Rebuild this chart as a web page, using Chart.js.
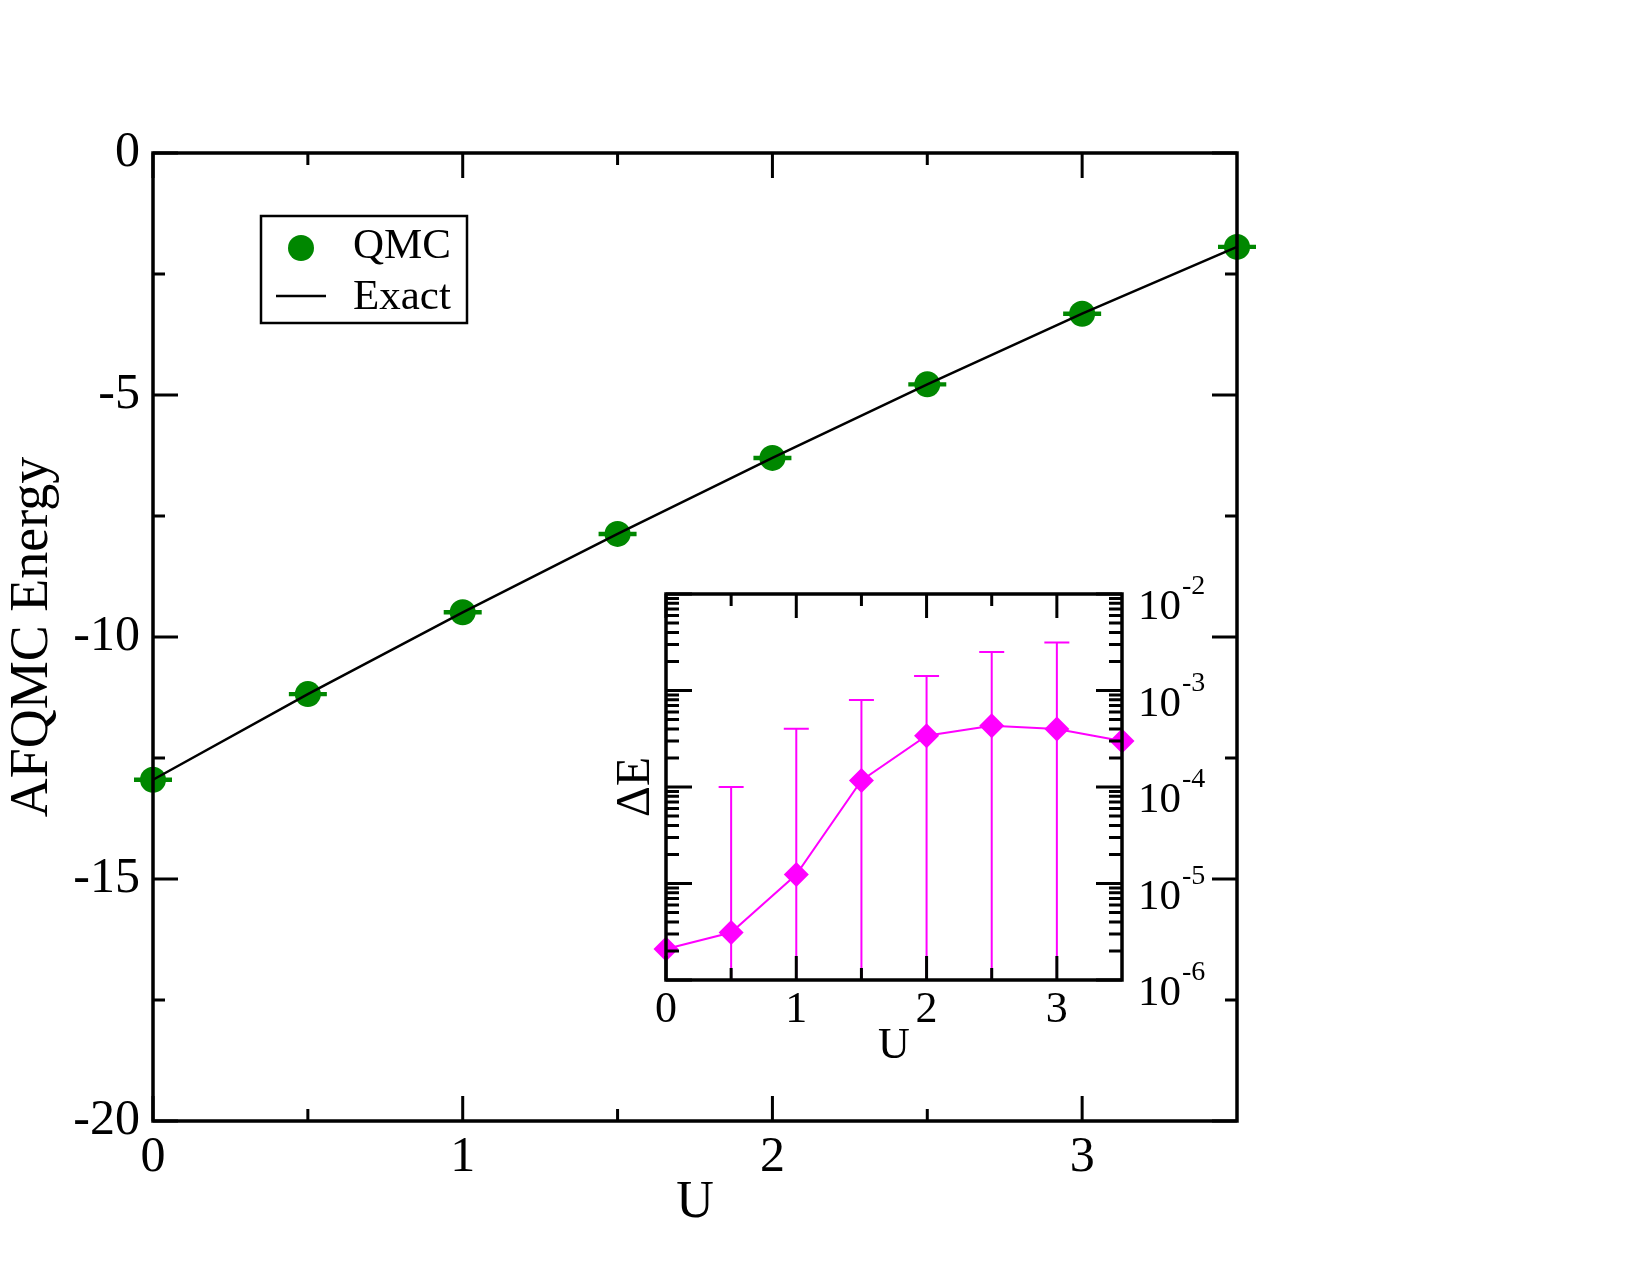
<!DOCTYPE html>
<html><head><meta charset="utf-8">
<script src="https://cdn.jsdelivr.net/npm/chart.js@4.4.1/dist/chart.umd.min.js"></script>
<style>
html,body{margin:0;padding:0;background:#fff;}
#wrap{position:relative;width:1650px;height:1275px;background:#fff;}
#main{position:absolute;left:0;top:0;}
#inset{position:absolute;left:560px;top:540px;}
</style></head><body>
<div id="wrap"><canvas id="main" width="1650" height="1275"></canvas><canvas id="inset" width="700" height="540"></canvas></div>
<script>
// ---- data ----
const U = [0, 0.5, 1, 1.5, 2, 2.5, 3, 3.5];
const qmcEnergy = [-12.95, -11.18, -9.49, -7.87, -6.30, -4.78, -3.32, -1.94];
const qmcError = [0.02, 0.02, 0.02, 0.02, 0.02, 0.02, 0.02, 0.02];
const exactEnergy = [-12.95, -11.18, -9.49, -7.87, -6.30, -4.78, -3.32, -1.94];
const deltaE = [2.1e-6, 3.1e-6, 1.24e-5, 1.17e-4, 3.4e-4, 4.3e-4, 4.0e-4, 3.0e-4];
const deltaEErr = [null, 9.7e-5, 3.9e-4, 6.8e-4, 1.07e-3, 2.07e-3, 2.75e-3, null];
const mainXTicks = [0, 1, 2, 3];
const mainXMinor = [0.5, 1.5, 2.5];
const mainYTicks = [-20, -15, -10, -5, 0];
const mainYMinor = [-17.5, -12.5, -7.5, -2.5];
const insetXTicks = [0, 1, 2, 3];
const insetXMinor = [0.5, 1.5, 2.5];
const insetYTicks = [1e-6, 1e-5, 1e-4, 1e-3, 1e-2];
const insetYExp = ['-6', '-5', '-4', '-3', '-2'];

const FONT = "'Liberation Serif', 'Times New Roman', serif";
Chart.defaults.font.family = FONT;
Chart.defaults.color = '#000';
const GREEN = 'rgb(0,135,0)';
const MAG = '#ff00ff';

const insetYMinor = [];
for (let d = -6; d < -2; d++) for (let m = 2; m <= 9; m++) insetYMinor.push(m * Math.pow(10, d));

const framePlugin = {
  id: 'frame',
  afterDraw(chart, args, o) {
    const {ctx, chartArea: a, scales} = chart;
    const xs = scales.x, ys = scales.y;
    ctx.save();
    ctx.strokeStyle = '#000'; ctx.lineWidth = o.lw; ctx.lineCap = 'butt';
    ctx.beginPath();
    const xt = o.xMajor.map(v => [v, o.xMajLen]).concat(o.xMinor.map(v => [v, o.xMinLen]));
    const yt = o.yMajor.map(v => [v, o.yMajLen]).concat(o.yMinor.map(v => [v, o.yMinLen]));
    xt.forEach(([v, len]) => { const p = xs.getPixelForValue(v);
      ctx.moveTo(p, a.bottom); ctx.lineTo(p, a.bottom - len);
      ctx.moveTo(p, a.top); ctx.lineTo(p, a.top + len); });
    yt.forEach(([v, len]) => { const p = ys.getPixelForValue(v);
      ctx.moveTo(a.left, p); ctx.lineTo(a.left + len, p);
      ctx.moveTo(a.right, p); ctx.lineTo(a.right - len, p); });
    ctx.stroke();
    ctx.lineJoin = 'miter';
    ctx.lineWidth = o.frameLw;
    ctx.strokeRect(a.left, a.top, a.right - a.left, a.bottom - a.top);
    ctx.restore();
  }
};

const mainErrPlugin = {
  id: 'mainErr',
  beforeDatasetsDraw(chart) {
    const {ctx, scales: {x, y}} = chart;
    ctx.save(); ctx.strokeStyle = GREEN; ctx.lineWidth = 2.5;
    ctx.beginPath();
    U.forEach((u, i) => {
      const px = x.getPixelForValue(u);
      const t = y.getPixelForValue(qmcEnergy[i] + qmcError[i]);
      const b = y.getPixelForValue(qmcEnergy[i] - qmcError[i]);
      ctx.moveTo(px, t); ctx.lineTo(px, b);
      ctx.moveTo(px - 19, t); ctx.lineTo(px + 19, t);
      ctx.moveTo(px - 19, b); ctx.lineTo(px + 19, b);
    });
    ctx.stroke(); ctx.restore();
  }
};

const legendPlugin = {
  id: 'boxLegend',
  afterDraw(chart) {
    const ctx = chart.ctx;
    const ds = chart.data.datasets;
    const qmc = ds.find(d => d.label === 'QMC'), ex = ds.find(d => d.label === 'Exact');
    ctx.save();
    ctx.strokeStyle = '#000'; ctx.lineWidth = 2.5;
    ctx.strokeRect(261, 216, 206, 107);
    ctx.fillStyle = GREEN;
    ctx.beginPath(); ctx.arc(301, 248, 13, 0, Math.PI * 2); ctx.fill();
    ctx.lineWidth = 2.5; ctx.beginPath(); ctx.moveTo(276, 296); ctx.lineTo(326, 296); ctx.stroke();
    ctx.fillStyle = '#000'; ctx.font = '43px ' + FONT; ctx.textBaseline = 'alphabetic'; ctx.textAlign = 'left';
    ctx.fillText(qmc.label, 353, 258);
    ctx.fillText(ex.label, 353, 309);
    ctx.restore();
  }
};

new Chart(document.getElementById('main'), {
  type: 'scatter',
  data: {
    datasets: [
      { label: 'Exact', type: 'line', data: U.map((u, i) => ({x: u, y: exactEnergy[i]})),
        borderColor: '#000', borderWidth: 2.5, pointRadius: 0, tension: 0, order: 0, clip: false },
      { label: 'QMC', data: U.map((u, i) => ({x: u, y: qmcEnergy[i]})),
        backgroundColor: GREEN, borderColor: GREEN, borderWidth: 0, pointRadius: 13, pointHoverRadius: 13, order: 1, clip: false }
    ]
  },
  options: {
    responsive: false, animation: false, devicePixelRatio: 1,
    layout: { padding: { left: 0, top: 153, right: 413, bottom: 0 } },
    plugins: { legend: { display: false }, tooltip: { enabled: false },
      frame: { lw: 3, frameLw: 3.5, xMajor: mainXTicks, xMinor: mainXMinor, yMajor: mainYTicks, yMinor: mainYMinor,
               xMajLen: 25, xMinLen: 12, yMajLen: 25, yMinLen: 12 } },
    scales: {
      x: { type: 'linear', min: 0, max: 3.5,
        afterBuildTicks: s => { s.ticks = mainXTicks.map(v => ({value: v})); },
        afterFit: s => { s.height = 154; },
        grid: { display: false, drawTicks: false }, border: { display: false },
        ticks: { font: { size: 50 }, padding: 7, color: '#000', maxRotation: 0, autoSkip: false },
        title: { display: true, text: 'U', font: { size: 52 }, color: '#000', padding: { top: 0, bottom: 40 } } },
      y: { type: 'linear', min: -20, max: 0,
        afterBuildTicks: s => { s.ticks = mainYTicks.map(v => ({value: v})); },
        afterFit: s => { s.width = 153; },
        grid: { display: false, drawTicks: false }, border: { display: false },
        ticks: { font: { size: 50 }, padding: 13, color: '#000', autoSkip: false },
        title: { display: true, text: 'AFQMC Energy', font: { size: 54 }, color: '#000', padding: { top: 0, bottom: 0 } } }
    }
  },
  plugins: [mainErrPlugin, framePlugin, legendPlugin]
});

const insetErrPlugin = {
  id: 'insetErr',
  beforeDatasetsDraw(chart) {
    const {ctx, chartArea: a, scales: {x, y}} = chart;
    ctx.save();
    ctx.beginPath(); ctx.rect(a.left, a.top, a.right - a.left, a.bottom - a.top); ctx.clip();
    ctx.strokeStyle = MAG; ctx.lineWidth = 2;
    ctx.beginPath();
    U.forEach((u, i) => {
      const e = deltaEErr[i];
      if (e == null) return;
      const px = x.getPixelForValue(u);
      const t = y.getPixelForValue(deltaE[i] + e);
      const lo = deltaE[i] - e;
      const b = lo > 0 ? y.getPixelForValue(lo) : a.bottom;
      ctx.moveTo(px, t); ctx.lineTo(px, b);
      ctx.moveTo(px - 12.5, t); ctx.lineTo(px + 12.5, t);
      if (lo > 0) { ctx.moveTo(px - 12.5, b); ctx.lineTo(px + 12.5, b); }
    });
    ctx.stroke(); ctx.restore();
  }
};

const logLabelPlugin = {
  id: 'logLabels',
  afterDraw(chart) {
    const {ctx, chartArea: a, scales: {y}} = chart;
    ctx.save(); ctx.fillStyle = '#000'; ctx.textAlign = 'left'; ctx.textBaseline = 'alphabetic';
    insetYTicks.forEach((v, i) => {
      const p = y.getPixelForValue(v);
      const x0 = a.right + 16;
      ctx.font = '43px ' + FONT;
      ctx.fillText('10', x0, p + 25);
      const w = ctx.measureText('10').width;
      ctx.font = '28px ' + FONT;
      ctx.fillText(insetYExp[i], x0 + w + 1, p);
    });
    ctx.restore();
  }
};

new Chart(document.getElementById('inset'), {
  type: 'line',
  data: {
    datasets: [
      { label: 'ΔE', data: U.map((u, i) => ({x: u, y: deltaE[i]})),
        borderColor: MAG, backgroundColor: MAG, borderWidth: 2, pointStyle: 'rectRot',
        pointRadius: 12.5, pointHoverRadius: 12.5, pointBorderWidth: 0, tension: 0, clip: false }
    ]
  },
  options: {
    responsive: false, animation: false, devicePixelRatio: 1,
    layout: { padding: { left: 0, top: 54, right: 138, bottom: 0 } },
    plugins: { legend: { display: false }, tooltip: { enabled: false },
      frame: { lw: 3, frameLw: 3.5, xMajor: insetXTicks, xMinor: insetXMinor, yMajor: insetYTicks, yMinor: insetYMinor,
               xMajLen: 24, xMinLen: 12, yMajLen: 26, yMinLen: 13 } },
    scales: {
      x: { type: 'linear', min: 0, max: 3.5,
        afterBuildTicks: s => { s.ticks = insetXTicks.map(v => ({value: v})); },
        afterFit: s => { s.height = 100; },
        grid: { display: false, drawTicks: false }, border: { display: false },
        ticks: { font: { size: 44 }, padding: 4, color: '#000', maxRotation: 0, autoSkip: false },
        title: { display: true, text: 'U', font: { size: 44 }, color: '#000', padding: { top: 0, bottom: 7 } } },
      y: { type: 'logarithmic', min: 1e-6, max: 1e-2, position: 'left',
        afterBuildTicks: s => { s.ticks = insetYTicks.map(v => ({value: v})); },
        afterFit: s => { s.width = 106; },
        grid: { display: false, drawTicks: false }, border: { display: false },
        ticks: { display: false },
        title: { display: true, text: 'ΔE', font: { size: 48 }, color: '#000', padding: { top: 48, bottom: 0 } } }
    }
  },
  plugins: [insetErrPlugin, framePlugin, logLabelPlugin]
});
</script>
</body></html>
